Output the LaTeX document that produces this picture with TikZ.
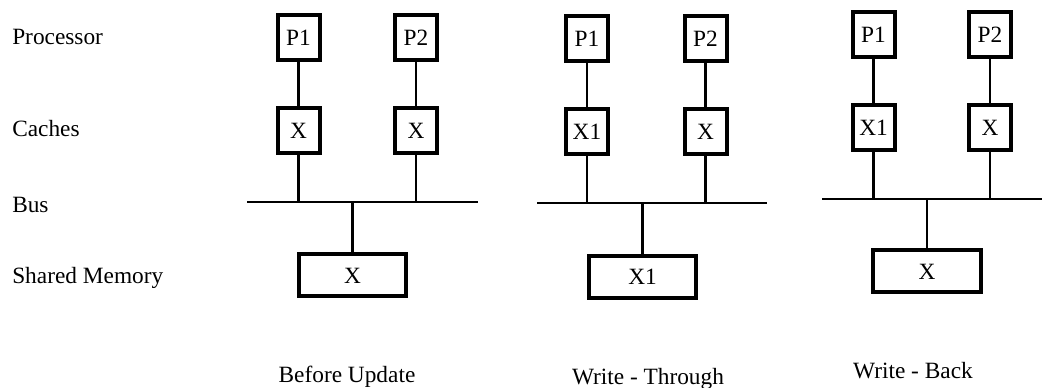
\documentclass[tikz,border=0pt]{standalone}
\usepackage{fontspec}
\setmainfont{Liberation Serif}
\begin{document}
\begin{tikzpicture}[x=0.75pt,y=-0.75pt,
  font=\fontsize{17.5}{20}\selectfont,
  unit/.style={draw,line width=3pt,minimum width=31.5pt,minimum height=33.75pt,inner sep=0pt},
  mem/.style={draw,line width=3pt,minimum width=80.5pt,minimum height=31.5pt,inner sep=0pt},
  wire/.style={line width=2pt},
  rowlabel/.style={anchor=base west,inner sep=0pt},
  caption/.style={anchor=base,inner sep=0pt}]
  \useasboundingbox (0,0) rectangle (1042,388);
  % row labels
  \node[rowlabel] (lproc) at (12,45) {Processor};
  \node[rowlabel] (lcache) at (12,137) {Caches};
  \node[rowlabel] (lbus) at (12,213) {Bus};
  \node[rowlabel] (lmem) at (12,283) {Shared Memory};
  % before update
  \node[unit] (ap1) at (298.5,38) {P1};
  \node[unit] (ap2) at (416,38) {P2};
  \node[unit] (ac1) at (298.5,131) {X};
  \node[unit] (ac2) at (416,131) {X};
  \coordinate (abl) at (247,202);
  \coordinate (abr) at (478,202);
  \node[mem] (am) at (352.5,275.5) {X};
  \draw[wire] (abl) -- (abr);
  \draw[wire] (ap1) -- (ac1);
  \draw[wire] (ap2) -- (ac2);
  \draw[wire] (ac1) -- (ac1 |- abl);
  \draw[wire] (ac2) -- (ac2 |- abl);
  \draw[wire] (am) -- (am |- abl);
  \node[caption] (acap) at (347,382) {Before Update};
  % write-through
  \node[unit] (bp1) at (587,39) {P1};
  \node[unit] (bp2) at (705.5,39) {P2};
  \node[unit] (bc1) at (587,132) {X1};
  \node[unit] (bc2) at (705.5,132) {X};
  \coordinate (bbl) at (537,203);
  \coordinate (bbr) at (767,203);
  \node[mem] (bm) at (642.5,277) {X1};
  \draw[wire] (bbl) -- (bbr);
  \draw[wire] (bp1) -- (bc1);
  \draw[wire] (bp2) -- (bc2);
  \draw[wire] (bc1) -- (bc1 |- bbl);
  \draw[wire] (bc2) -- (bc2 |- bbl);
  \draw[wire] (bm) -- (bm |- bbl);
  \node[caption] (bcap) at (648,384) {Write - Through};
  % write-back
  \node[unit] (cp1) at (873.5,34.5) {P1};
  \node[unit] (cp2) at (990,34.5) {P2};
  \node[unit] (cc1) at (873.5,128) {X1};
  \node[unit] (cc2) at (990,128) {X};
  \coordinate (cbl) at (822,199);
  \coordinate (cbr) at (1042,199);
  \node[mem] (cm) at (927,271.5) {X};
  \draw[wire] (cbl) -- (cbr);
  \draw[wire] (cp1) -- (cc1);
  \draw[wire] (cp2) -- (cc2);
  \draw[wire] (cc1) -- (cc1 |- cbl);
  \draw[wire] (cc2) -- (cc2 |- cbl);
  \draw[wire] (cm) -- (cm |- cbl);
  \node[caption] (ccap) at (913,378) {Write - Back};
\end{tikzpicture}
\end{document}
